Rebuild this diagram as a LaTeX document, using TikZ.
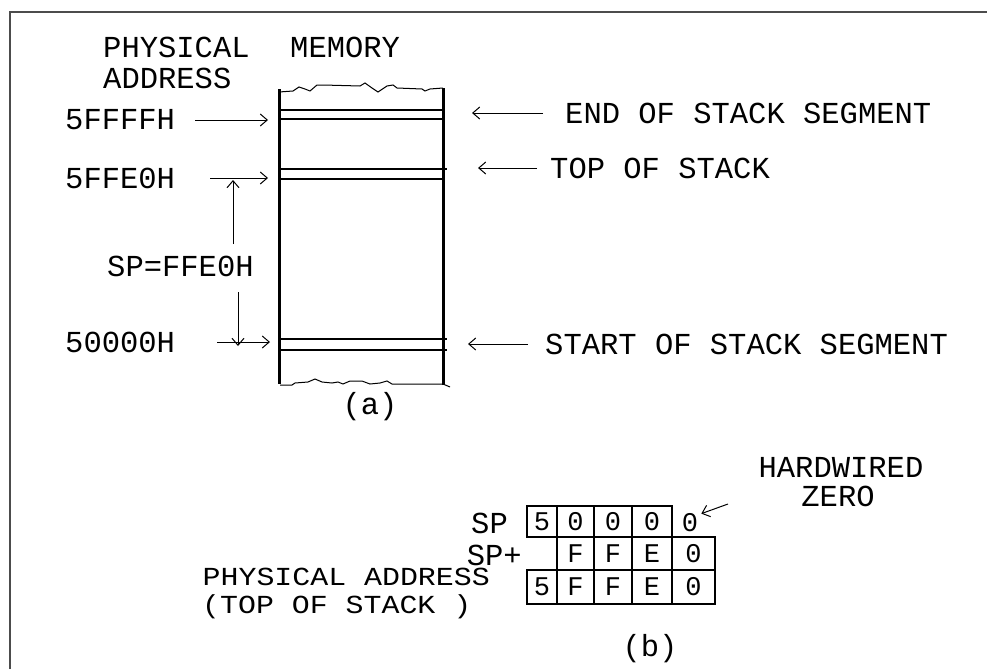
\documentclass[tikz,border=0pt]{standalone}
\usepackage{fontspec}
\usepackage{graphicx}
\newfontfamily\memfont{Liberation Mono}
\usetikzlibrary{arrows.meta}

\begin{document}
\begin{tikzpicture}[
    x=1pt, y=-1pt,
    lbl/.style={inner sep=0pt, font=\memfont\fontsize{30.5}{34}\selectfont},
    small/.style={inner sep=0pt, font=\memfont\fontsize{26}{28}\selectfont},
    digit/.style={inner sep=0pt, font=\memfont\fontsize{27}{30}\selectfont},
    cell/.style={draw, line width=1.3pt, inner sep=0pt, font=\memfont\fontsize{27}{30}\selectfont},
    arrow/.style={-{Straight Barb[length=7pt,width=12pt]}, line width=1pt},
    wall/.style={line width=3pt},
    seg/.style={line width=1.2pt}
  ]
    \useasboundingbox (0,0) rectangle (987,669);

    % Frame
    \draw[line width=2pt, black!70] (10,669) -- (10,12) -- (987,12);

    % (a) Memory column
    \node[lbl, anchor=west] (hPhys) at (103,47) {PHYSICAL};
    \node[lbl, anchor=west] (hMem) at (290,47) {MEMORY};
    \node[lbl, anchor=west] (hAddr) at (103,78) {ADDRESS};

    \draw[wall] (279,89) -- (279,384);
    \draw[wall] (443,88) -- (443,385);
    \draw[line width=1pt] (279,92) -- (293,91) -- (299,87) -- (305,89) -- (310,91) -- (317,85)
      -- (323,85) -- (360,86) -- (365,83) -- (372,88) -- (378,92) -- (387,86) -- (393,85)
      -- (397,88) -- (422,89) -- (425,91) -- (430,89) -- (443,88);
    \draw[line width=1pt] (280,385) -- (292,385) -- (295,383) -- (308,382) -- (315,379)
      -- (322,382) -- (332,383) -- (338,382) -- (343,384) -- (350,381) -- (362,381)
      -- (370,384) -- (380,383) -- (387,381) -- (392,384) -- (443,384) -- (450,387);
    \draw[seg] (279,110) -- (443,110);
    \draw[seg] (279,119) -- (443,119);
    \draw[seg] (279,169) -- (447,169);
    \draw[seg] (279,179) -- (443,179);
    \draw[seg] (279,339) -- (447,339);
    \draw[seg] (279,350) -- (447,350);

    % Addresses on the left
    \node[lbl, anchor=west] (a5ffff) at (65,120) {5FFFFH};
    \node[lbl, anchor=west] (a5ffe0) at (65,178) {5FFE0H};
    \node[lbl, anchor=west] (a50000) at (65,342) {50000H};
    \coordinate (p5ffff) at (268,120);
    \coordinate (p5ffe0) at (268,178);
    \coordinate (p50000) at (270,342);
    \draw[arrow] ([xshift=20pt]a5ffff.east) -- (p5ffff);
    \draw[arrow] ([xshift=35pt]a5ffe0.east) -- (p5ffe0);
    \draw[arrow] ([xshift=42pt]a50000.east) -- (p50000);

    % SP offset
    \node[lbl, anchor=west] (sp) at (107,266) {SP=FFE0H};
    \coordinate (upFrom) at (233,244);
    \coordinate (upTo) at (233,180);
    \coordinate (dnFrom) at (238,292);
    \coordinate (dnTo) at (238,346);
    \draw[arrow] (upFrom) -- (upTo);
    \draw[arrow] (dnFrom) -- (dnTo);

    % Labels on the right
    \node[lbl, anchor=west] (tEnd) at (565,113) {END OF STACK SEGMENT};
    \node[lbl, anchor=west] (tTop) at (550,168) {TOP OF STACK};
    \node[lbl, anchor=west] (tStart) at (545,344) {START OF STACK SEGMENT};
    \coordinate (qEnd) at (472,113);
    \coordinate (qTop) at (478,168);
    \coordinate (qStart) at (468,344);
    \draw[arrow] ([xshift=-22pt]tEnd.west) -- (qEnd);
    \draw[arrow] ([xshift=-13pt]tTop.west) -- (qTop);
    \draw[arrow] ([xshift=-17pt]tStart.west) -- (qStart);

    \node[lbl] (capA) at (370,407) {(a)};

    % (b) Row 1: SP
    \node[lbl, anchor=east] (rSp) at (508,523) {SP};
    \node[cell, minimum width=30pt, minimum height=31pt] (s1) at (542,521.5) {5};
    \node[cell, minimum width=37pt, minimum height=31pt] (s2) at (575.5,521.5) {0};
    \node[cell, minimum width=38pt, minimum height=31pt] (s3) at (613,521.5) {0};
    \node[cell, minimum width=40pt, minimum height=31pt] (s4) at (652,521.5) {0};
    \node[digit] (s5) at (690,523) {0};

    % Row 2: offset
    \node[lbl, anchor=east] (rOff) at (522,555) {SP+};
    \node[cell, minimum width=37pt, minimum height=33pt] (o2) at (575.5,553.5) {F};
    \node[cell, minimum width=38pt, minimum height=33pt] (o3) at (613,553.5) {F};
    \node[cell, minimum width=40pt, minimum height=33pt] (o4) at (652,553.5) {E};
    \node[cell, minimum width=43pt, minimum height=33pt] (o5) at (693.5,553.5) {0};

    % Row 3: physical address
    \node[small, anchor=base east] (rPhys) at (490,585) {\scalebox{1.15}[1]{PHYSICAL ADDRESS}};
    \node[small, anchor=base west] (rTop) at (202,613) {\scalebox{1.15}[1]{(TOP OF STACK )}};
    \node[cell, minimum width=30pt, minimum height=34pt] (p1) at (542,587) {5};
    \node[cell, minimum width=37pt, minimum height=34pt] (p2) at (575.5,587) {F};
    \node[cell, minimum width=38pt, minimum height=34pt] (p3) at (613,587) {F};
    \node[cell, minimum width=40pt, minimum height=34pt] (p4) at (652,587) {E};
    \node[cell, minimum width=43pt, minimum height=34pt] (p5) at (693.5,587) {0};

    % Hardwired zero
    \node[lbl] (hwA) at (841,467) {HARDWIRED};
    \node[lbl] (hwB) at (838,496) {ZERO};
    \coordinate (hwTail) at (728,504);
    \draw[arrow] (hwTail) -- ([xshift=3pt]s5.north east);

    \node[lbl] (capB) at (650,649) {(b)};
  \end{tikzpicture}
\end{document}
